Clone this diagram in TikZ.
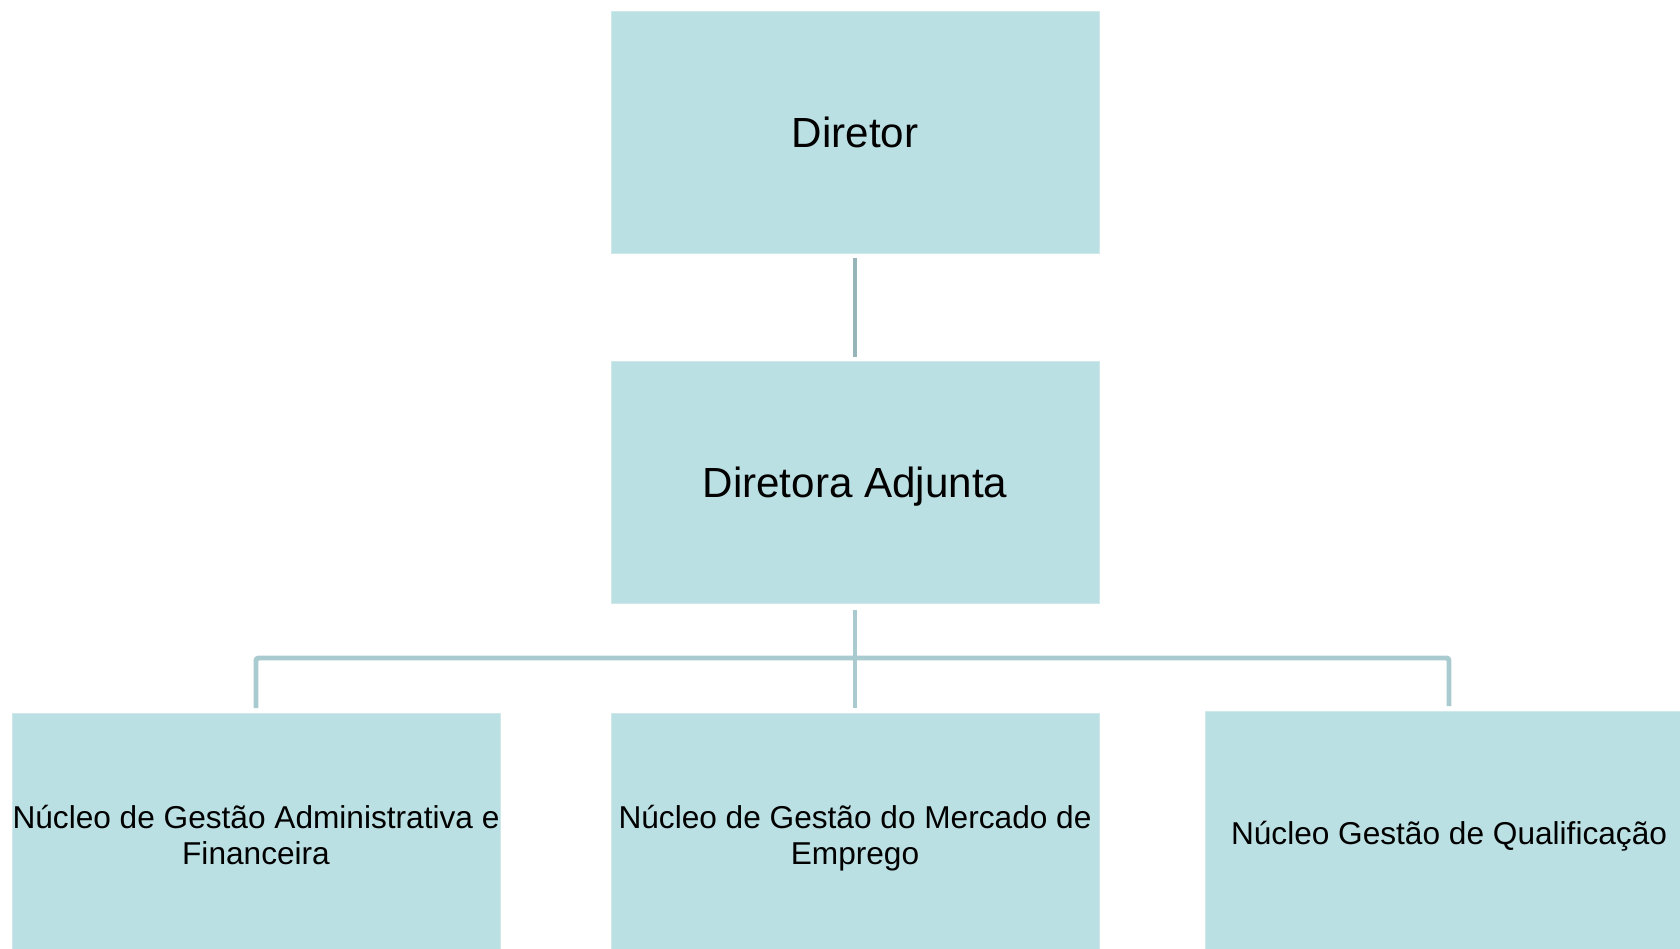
\documentclass[tikz,border=0pt]{standalone}
\usepackage{fontspec}
\setmainfont{Liberation Sans}
\usepackage{xcolor}
\usetikzlibrary{positioning,calc}
\definecolor{boxfill}{HTML}{BBE0E3}
\definecolor{linkcol}{HTML}{A9CACE}
\definecolor{linkdark}{HTML}{97B4B8}

\begin{document}
\begin{tikzpicture}[
    x=0.02cm, y=-0.02cm,
    orgbox/.style={rectangle, fill=boxfill, draw=boxfill!70!white, line width=0.4pt,
        minimum width=9.76cm, minimum height=4.84cm, inner sep=0pt, outer sep=0pt,
        text depth=0pt, align=center},
    bigtext/.style={font=\fontsize{24}{28}\selectfont},
    smalltext/.style={font=\fontsize{18}{20.7}\selectfont},
    link/.style={draw=linkcol, line width=2.8pt}
]
    \useasboundingbox (0,0) rectangle (1680,948);
    \fill[white] (0,0) rectangle (1680,948);
    \clip (0,0) rectangle (1680,948);

    % Director
    \node[orgbox, bigtext] (dir) at (855,132) {Diretor};
    \node[orgbox, bigtext] (adj) at (855,482.5) {Diretora Adjunta};

    % Nucleos
    \node[orgbox, smalltext] (nga) at (256,834.6) {Núcleo de Gestão Administrativa e\\Financeira};
    \node[orgbox, smalltext] (ngm) at (855,834.6) {Núcleo de Gestão do Mercado de\\Emprego};
    \node[orgbox, smalltext] (ngq) at (1449,832.5) {Núcleo Gestão de Qualificação};

    % Connectors
    \draw[link, draw=linkdark, shorten <=0.1cm, shorten >=0.1cm] (dir.south) -- (adj.north);
    \draw[link, shorten <=0.14cm, shorten >=0.11cm] (adj.south) -- (ngm.north);
    \coordinate (bus) at (855,658);
    \draw[link, rounded corners=1.5pt] ([yshift=0.11cm]nga.north) |- (bus) -| ([yshift=0.11cm]ngq.north);
\end{tikzpicture}
\end{document}
